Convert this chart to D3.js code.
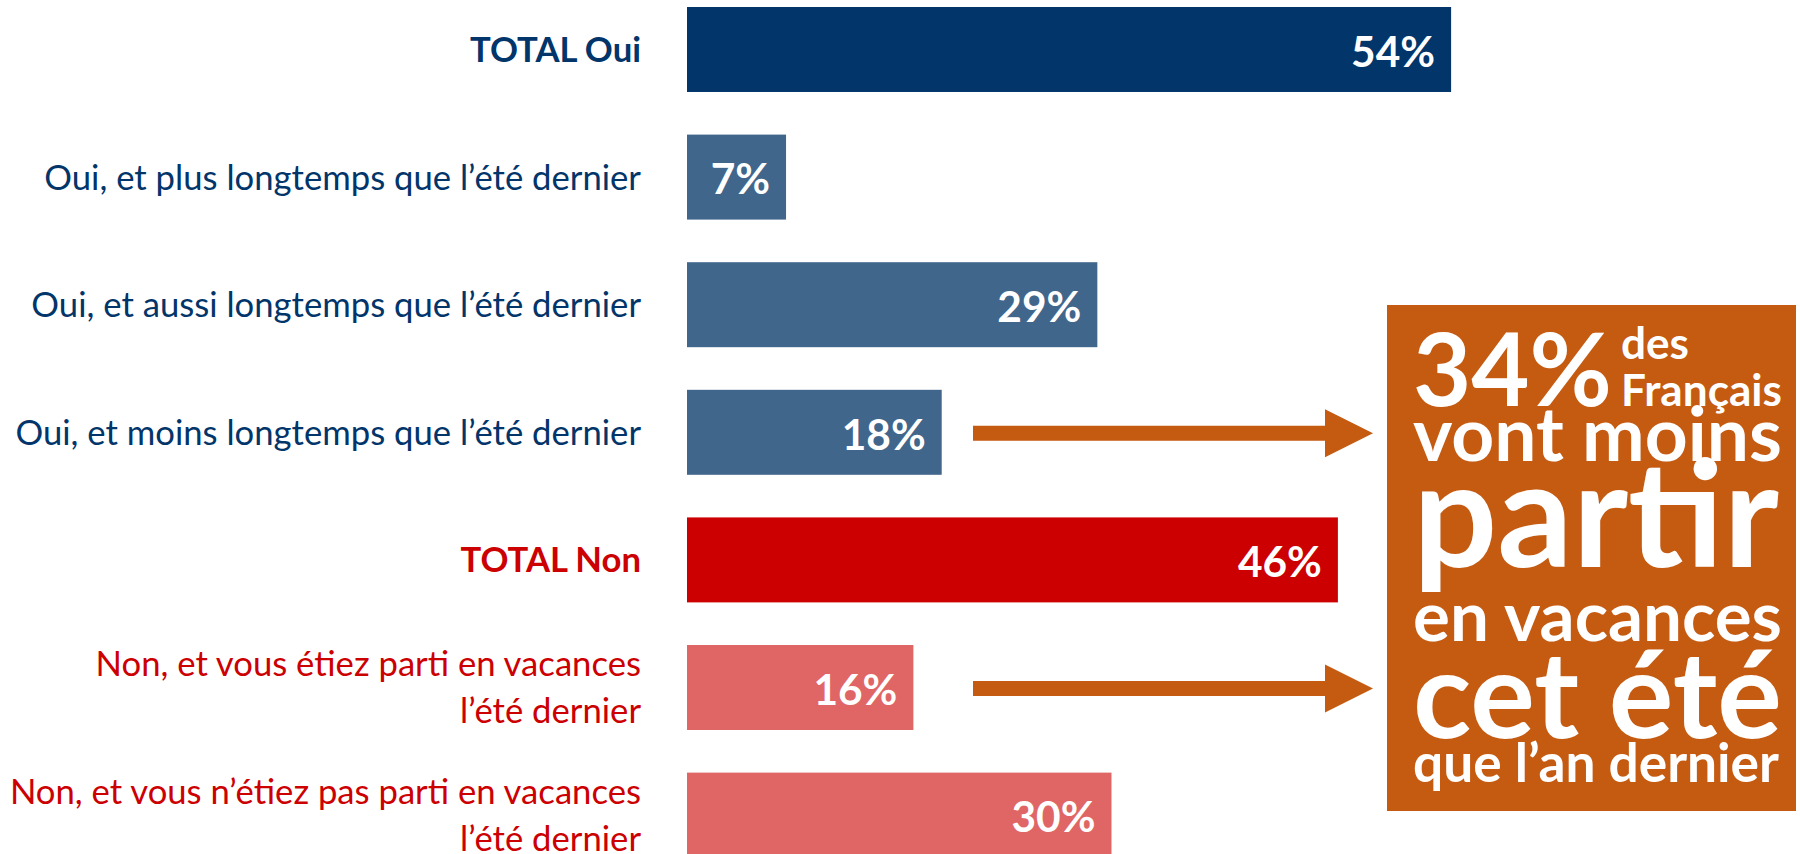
<!DOCTYPE html>
<html>
<head>
<meta charset="utf-8">
<script src="https://cdn.jsdelivr.net/npm/d3@7"></script>
<style>
  html, body { margin: 0; padding: 0; background: #fff; overflow: hidden; }
  svg { display: block; }
</style>
</head>
<body>
<svg id="chart" width="1800" height="854"></svg>
<script>
// ---------------- DATA ----------------
const categories = [
  "TOTAL Oui",
  "Oui, et plus longtemps que l’été dernier",
  "Oui, et aussi longtemps que l’été dernier",
  "Oui, et moins longtemps que l’été dernier",
  "TOTAL Non",
  "Non, et vous étiez parti en vacances\nl’été dernier",
  "Non, et vous n’étiez pas parti en vacances\nl’été dernier"
];
const values = [54, 7, 29, 18, 46, 16, 30];
const groups = ["oui-total", "oui", "oui", "oui", "non-total", "non", "non"];
const arrowFrom = [categories[3], categories[5]];
const calloutLines = ["34%", "des", "Français", "vont moins", "partir", "en vacances", "cet été", "que l’an dernier"];

// ---------------- STYLE ----------------
const barColor = { "oui-total": "#02356A", "oui": "#41668C", "non-total": "#CC0000", "non": "#E06666" };
const labelColor = { "oui-total": "#02356A", "oui": "#02356A", "non-total": "#CC0000", "non": "#CC0000" };
const orange = "#C55A11";
const FONT = "Lato, 'Open Sans', 'DejaVu Sans', sans-serif";

const svg = d3.select("#chart");

const x = d3.scaleLinear().domain([0, 100]).range([687, 687 + 1415]);
const y = d3.scaleBand().domain(categories).range([7, 857.6]).paddingInner(0.334).paddingOuter(0);

// measuring helper
const meas = svg.append("text").attr("font-family", FONT).attr("x", -9999).attr("y", -9999);
function widthAt(str, size, weight) {
  meas.attr("font-size", size).attr("font-weight", weight).text(str);
  return meas.node().getComputedTextLength();
}
function fitSize(str, target, weight) {
  return 100 * target / widthAt(str, 100, weight);
}

// bars
svg.append("g").selectAll("rect").data(categories).join("rect")
  .attr("x", x(0))
  .attr("y", d => y(d))
  .attr("width", (d, i) => x(values[i]) - x(0))
  .attr("height", y.bandwidth())
  .attr("fill", (d, i) => barColor[groups[i]]);

// category labels
const labelSize = fitSize("Oui, et moins longtemps que l’été dernier", 626, 400);
const labelX = 641;
const lg = svg.append("g").attr("font-family", FONT).attr("font-size", labelSize).attr("text-anchor", "end");
categories.forEach((c, i) => {
  const lines = c.split("\n");
  const cy = y(c) + y.bandwidth() / 2;
  const gap = 47;
  const bold = groups[i].endsWith("total");
  const t = lg.append("text")
    .attr("fill", labelColor[groups[i]])
    .attr("font-weight", bold ? 700 : 400);
  lines.forEach((ln, k) => {
    const off = (k - (lines.length - 1) / 2) * gap;
    t.append("tspan").attr("x", labelX).attr("y", cy + off).attr("dy", "0.36em").text(ln);
  });
});

// value labels
const valSize = fitSize("54%", 84, 700);
svg.append("g").attr("font-family", FONT).attr("font-size", valSize).attr("font-weight", 700)
  .attr("fill", "#fff").attr("text-anchor", "end")
  .selectAll("text").data(categories).join("text")
  .attr("x", (d, i) => x(values[i]) - 16)
  .attr("y", d => y(d) + y.bandwidth() / 2 + 2)
  .attr("dy", "0.36em")
  .text((d, i) => values[i] + "%");

// arrows
const ag = svg.append("g").attr("fill", orange);
arrowFrom.forEach(c => {
  const cy = y(c) + y.bandwidth() / 2 + 1;
  const x0 = 973, x1 = 1325, tip = 1373, sh = 7.5, hh = 24;
  ag.append("path").attr("d",
    `M${x0},${cy - sh} L${x1},${cy - sh} L${x1},${cy - hh} L${tip},${cy} L${x1},${cy + hh} L${x1},${cy + sh} L${x0},${cy + sh} Z`);
});

// callout box
svg.append("rect").attr("x", 1387).attr("y", 305).attr("width", 409).attr("height", 506).attr("fill", orange);
const spec = [
  { x: 1413, base: 406, w: 199 },
  { x: 1621, base: 359, w: 68 },
  { x: 1621, base: 406, w: 161 },
  { x: 1413, base: 461, w: 369 },
  { x: 1413, base: 567, w: 366 },
  { x: 1413, base: 641, w: 369 },
  { x: 1413, base: 738, w: 369 },
  { x: 1413, base: 782, w: 366 }
];
const cg = svg.append("g").attr("font-family", FONT).attr("font-weight", 700).attr("fill", "#fff");
calloutLines.forEach((ln, i) => {
  const s = spec[i];
  cg.append("text").attr("x", s.x).attr("y", s.base)
    .attr("font-size", fitSize(ln, s.w, 700)).text(ln);
});
meas.remove();
</script>
</body>
</html>
